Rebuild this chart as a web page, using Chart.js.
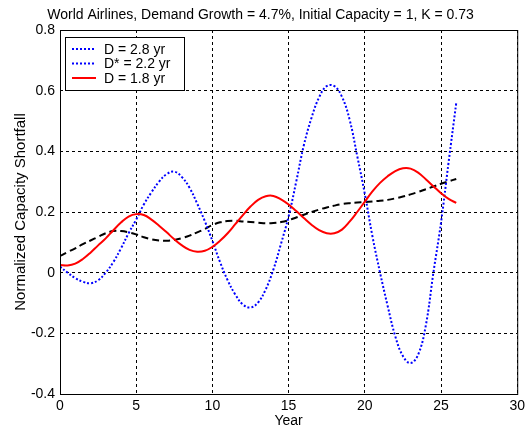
<!DOCTYPE html>
<html lang="en">
<head>
  <meta charset="UTF-8">
  <title>World Airlines capacity shortfall</title>
  <script src="https://cdn.jsdelivr.net/npm/chart.js"></script>
  <style>
    html, body { margin: 0; padding: 0; background: #fff; }
    #wrap { width: 529px; height: 430px; }
  </style>
</head>
<body>
  <div id="wrap"><canvas id="myChart" width="529" height="430"></canvas></div>

  <script>
    // values, one per half year
    const titleText = 'World Airlines, Demand Growth = 4.7%, Initial Capacity = 1, K = 0.73';
    const seriesLabels = ['D = 2.8 yr', 'D* = 2.2 yr', 'D = 1.8 yr'];

    const years = [0, 0.5, 1, 1.5, 2, 2.5, 3, 3.5, 4, 4.5, 5, 5.5, 6, 6.5, 7, 7.5, 8, 8.5, 9, 9.5,
                   10, 10.5, 11, 11.5, 12, 12.5, 13, 13.5, 14, 14.5, 15, 15.5, 16, 16.5, 17, 17.5, 18, 18.5, 19, 19.5,
                   20, 20.5, 21, 21.5, 22, 22.5, 23, 23.5, 24, 24.5, 25, 25.5, 26];

    const valsD28 = [0.055, 0.068, 0.08, 0.094, 0.106, 0.118, 0.13, 0.137, 0.137, 0.133, 0.126, 0.117, 0.11, 0.106, 0.105, 0.108, 0.114, 0.122, 0.133, 0.144,
                     0.157, 0.166, 0.17, 0.171, 0.169, 0.167, 0.165, 0.163, 0.164, 0.167, 0.173, 0.182, 0.191, 0.2, 0.208, 0.215, 0.221, 0.226, 0.229, 0.231,
                     0.233, 0.235, 0.237, 0.24, 0.245, 0.251, 0.258, 0.266, 0.275, 0.284, 0.293, 0.301, 0.309];

    const valsD22 = [0.02, 0.0, -0.018, -0.03, -0.035, -0.025, 0.0, 0.035, 0.08, 0.13, 0.175, 0.225, 0.265, 0.3, 0.325, 0.333, 0.315, 0.28, 0.228, 0.17,
                     0.105, 0.035, -0.025, -0.072, -0.105, -0.115, -0.098, -0.055, 0.01, 0.095, 0.185, 0.3, 0.42, 0.51, 0.578, 0.615, 0.615, 0.58, 0.505, 0.385,
                     0.26, 0.12, 0.0, -0.11, -0.21, -0.275, -0.298, -0.27, -0.175, 0.0, 0.165, 0.365, 0.56];

    const valsD18 = [0.025, 0.024, 0.03, 0.045, 0.066, 0.09, 0.113, 0.14, 0.165, 0.185, 0.193, 0.19, 0.175, 0.155, 0.133, 0.11, 0.09, 0.075, 0.069, 0.072,
                     0.085, 0.105, 0.13, 0.16, 0.19, 0.218, 0.24, 0.252, 0.253, 0.242, 0.225, 0.203, 0.18, 0.158, 0.14, 0.13, 0.13, 0.142, 0.168, 0.2,
                     0.234, 0.268, 0.296, 0.318, 0.335, 0.344, 0.343, 0.33, 0.308, 0.285, 0.262, 0.243, 0.23];

    const xTicks = [0, 5, 10, 15, 20, 25, 30];
    const yTicks = [-0.4, -0.2, 0, 0.2, 0.4, 0.6, 0.8];

    const toPoints = ys => years.map((x, i) => ({ x, y: ys[i] }));
    const FONT = 'Liberation Sans, Arial, Helvetica, sans-serif';

    // MATLAB style box around the axes
    const boxPlugin = {
      id: 'axesBox',
      afterDatasetsDraw(chart) {
        const { ctx, chartArea: a } = chart;
        ctx.save();
        ctx.strokeStyle = '#000';
        ctx.lineWidth = 1;
        ctx.setLineDash([]);
        ctx.strokeRect(a.left + 0.5, a.top + 0.5, a.right - a.left, a.bottom - a.top);
        ctx.restore();
      }
    };

    // legend box drawn inside the plot, top left
    const legendSwatches = [
      { color: '#0000ff', dash: [2, 2], width: 2 },
      { color: '#0000ff', dash: [2, 2], width: 2 },
      { color: '#ff0000', dash: [], width: 2 }
    ];
    const legendPlugin = {
      id: 'insideLegend',
      afterDatasetsDraw(chart) {
        const { ctx, chartArea: a } = chart;
        const x0 = a.left + 5, y0 = a.top + 7, w = 119, h = 53;
        ctx.save();
        ctx.fillStyle = '#fff';
        ctx.fillRect(x0, y0, w, h);
        ctx.strokeStyle = '#000';
        ctx.lineWidth = 1;
        ctx.setLineDash([]);
        ctx.strokeRect(x0 + 0.5, y0 + 0.5, w, h);
        ctx.font = '14px ' + FONT;
        ctx.textBaseline = 'middle';
        ctx.fillStyle = '#000';
        seriesLabels.forEach((lab, i) => {
          const yy = y0 + 12 + i * 14.5;
          const s = legendSwatches[i];
          ctx.beginPath();
          ctx.strokeStyle = s.color;
          ctx.lineWidth = s.width;
          ctx.setLineDash(s.dash);
          ctx.moveTo(x0 + 7, yy);
          ctx.lineTo(x0 + 31, yy);
          ctx.stroke();
          ctx.setLineDash([]);
          ctx.fillText(lab, x0 + 39, yy + 1);
        });
        ctx.restore();
      }
    };

    const ctx = document.getElementById('myChart').getContext('2d');
    const myChart = new Chart(ctx, {
      type: 'line',
      data: {
        datasets: [{
          label: seriesLabels[0],
          data: toPoints(valsD28),
          borderColor: '#000',
          borderWidth: 2,
          borderDash: [7, 4],
          order: 2
        }, {
          label: seriesLabels[1],
          data: toPoints(valsD22),
          borderColor: '#0000ff',
          borderWidth: 2,
          borderDash: [2, 2],
          order: 1
        }, {
          label: seriesLabels[2],
          data: toPoints(valsD18),
          borderColor: '#ff0000',
          borderWidth: 2,
          order: 0
        }]
      },
      options: {
        responsive: false,
        animation: false,
        layout: { padding: { left: 0, right: 8, top: 0, bottom: 0 } },
        elements: {
          point: { radius: 0 },
          line: { tension: 0.4, fill: false }
        },
        plugins: {
          legend: { display: false },
          tooltip: { enabled: false },
          title: {
            display: true,
            text: titleText,
            color: '#000',
            font: { family: FONT, size: 14, weight: 'normal' },
            padding: { top: 6.6, bottom: 6.6 }
          }
        },
        scales: {
          x: {
            type: 'linear',
            min: 0, max: 30,
            afterBuildTicks: s => { s.ticks = xTicks.map(v => ({ value: v })); },
            afterFit: s => { s.height = 36; },
            grid: { color: '#000', lineWidth: 1, drawTicks: false },
            border: { display: false, dash: [3, 3] },
            ticks: { color: '#000', padding: 4, font: { family: FONT, size: 14 } },
            title: { display: true, text: 'Year', color: '#000', font: { family: FONT, size: 14 }, padding: { top: 0, bottom: 0 } }
          },
          y: {
            min: -0.4, max: 0.8,
            afterBuildTicks: s => { s.ticks = yTicks.map(v => ({ value: v })); },
            afterFit: s => { s.width = 60; },
            grid: { color: '#000', lineWidth: 1, drawTicks: false },
            border: { display: false, dash: [3, 3] },
            ticks: { color: '#000', padding: 5, font: { family: FONT, size: 14 }, callback: v => String(+v.toFixed(1)) },
            title: { display: true, text: 'Normalized Capacity Shortfall', color: '#000', font: { family: FONT, size: 15 }, padding: { top: 11.5, bottom: 0 } }
          }
        }
      },
      plugins: [boxPlugin, legendPlugin]
    });
  </script>
</body>
</html>
